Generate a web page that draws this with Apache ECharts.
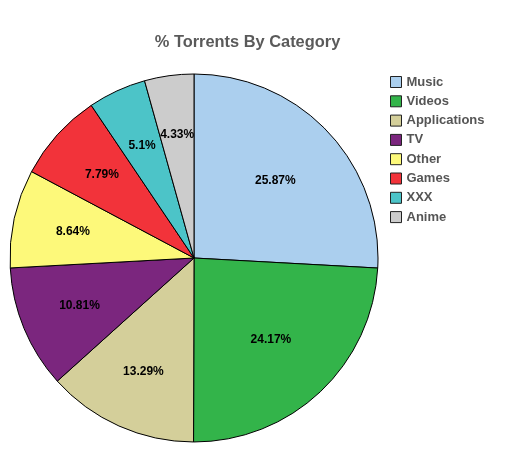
<!DOCTYPE html>
<html><head><meta charset="utf-8">
<script src="https://cdn.jsdelivr.net/npm/echarts@6/dist/echarts.min.js"></script>
<style>html,body{margin:0;padding:0;background:#fff}#c{width:505px;height:460px}</style>
</head><body><div id="c"></div>
<script>
const categories = ['Music','Videos','Applications','TV','Other','Games','XXX','Anime'];
const values = [25.87,24.17,13.29,10.81,8.64,7.79,5.1,4.33];
const colors = ['#abcfee','#33b44a','#d4cf9a','#7b267e','#fdf97a','#f2333a','#4cc4c8','#cccccc'];

const chart = echarts.init(document.getElementById('c'), null, {renderer:'canvas'});
const mainData = categories.map((n,i)=>({name:n,value:values[i],itemStyle:{color:colors[i]}}));
// labels of big slices sit a bit closer to the centre than the small ones
const isBig = v => v > 20;
const labelData = big => categories.map((n,i)=>({name:n,value:values[i],
  label:{show: isBig(values[i]) === big}}));
const labelStyle = {position:'inside',formatter:p=>p.value+'%',
  fontFamily:'Liberation Sans, Arial',fontSize:12,fontWeight:'bold',color:'#000'};
const labelSeries = (R, big) => ({type:'pie',center:[194,258],radius:[0,R],startAngle:90,clockwise:true,
  silent:true,legendHoverLink:false,data:labelData(big),
  itemStyle:{color:'rgba(0,0,0,0)',borderWidth:0},
  label:labelStyle,labelLine:{show:false},emphasis:{disabled:true}});
chart.setOption({
  animation:false,
  backgroundColor:'#ffffff',
  title:{text:'% Torrents By Category',left:242.5,top:29,textAlign:'center',
    textStyle:{fontFamily:'Liberation Sans, Arial',fontSize:16.4,fontWeight:'bold',color:'#5a5a5a'}},
  legend:{orient:'vertical',left:385,top:70.5,itemWidth:11,itemHeight:11,itemGap:6.3,icon:'rect',
    data:categories,
    textStyle:{fontFamily:'Liberation Sans, Arial',fontSize:13,fontWeight:'bold',color:'#555555'},
    itemStyle:{borderColor:'#222',borderWidth:1}},
  series:[
    {type:'pie',center:[194,258],radius:[0,184],startAngle:90,clockwise:true,
     data:mainData,label:{show:false},labelLine:{show:false},
     itemStyle:{borderColor:'#000',borderWidth:1},emphasis:{disabled:true}},
    labelSeries(218, true),
    labelSeries(242, false)
  ]
});
</script></body></html>
